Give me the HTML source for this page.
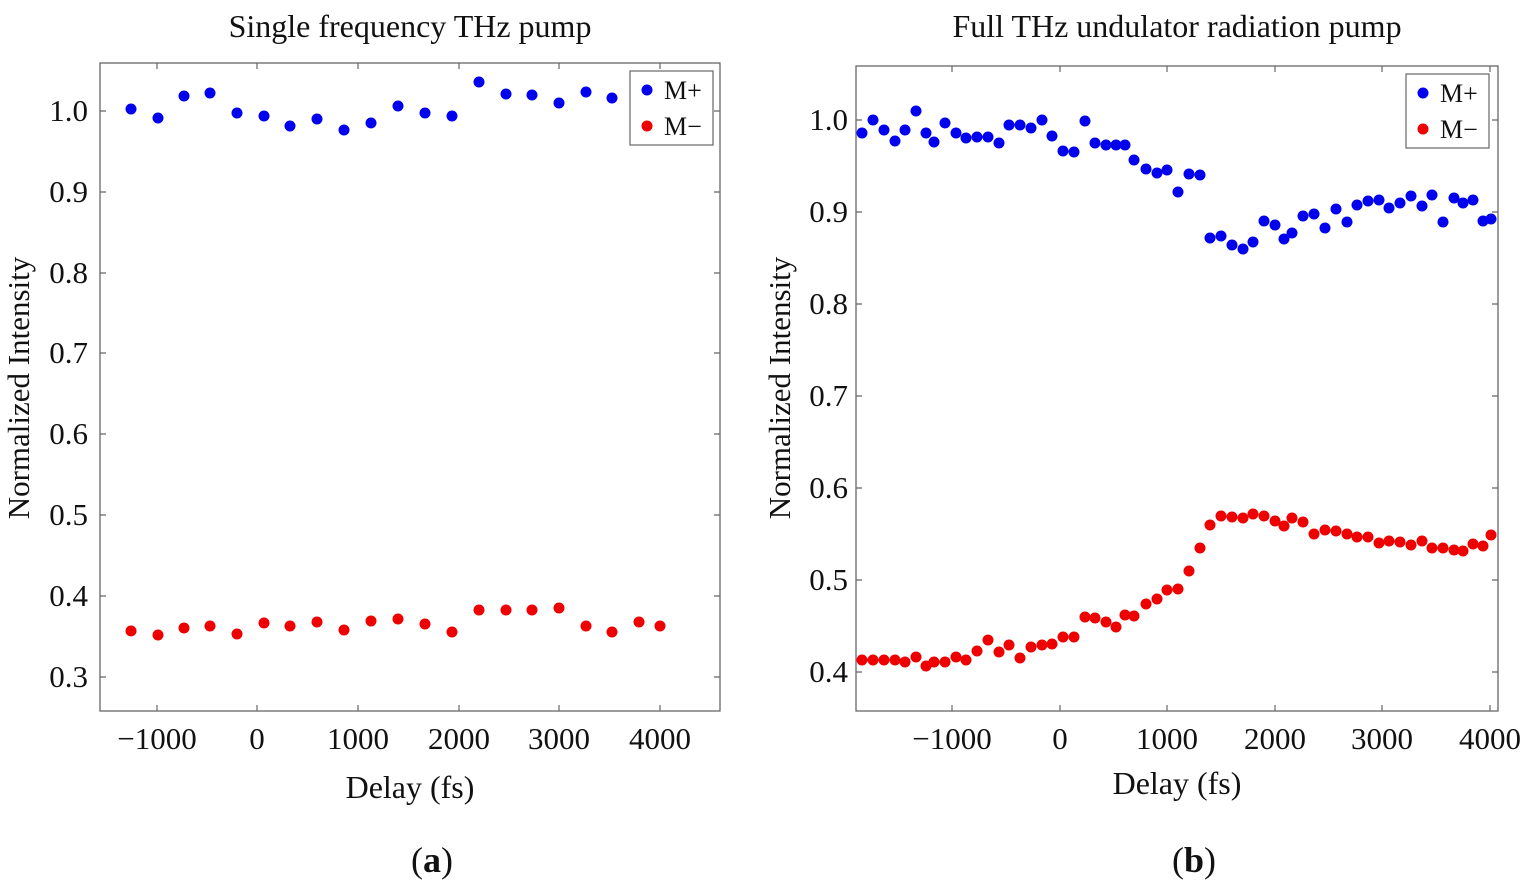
<!DOCTYPE html>
<html><head><style>
body{margin:0;background:#fff;}
svg text{font-family:"Liberation Serif",serif;fill:#111;}
</style></head><body>
<svg width="1528" height="886" xmlns="http://www.w3.org/2000/svg">
<g stroke="#666" stroke-width="1.3" fill="none">
<rect x="100" y="63" width="620" height="648"/>
<rect x="856" y="66" width="642" height="645"/>
</g>
<g stroke="#666" stroke-width="1.2">
<path d="M157 711v-6M257 711v-6M358 711v-6M459 711v-6M559 711v-6M660 711v-6M157 63v6M257 63v6M358 63v6M459 63v6M559 63v6M660 63v6M100 111h6M100 192h6M100 273h6M100 353h6M100 434h6M100 515h6M100 596h6M100 677h6M720 111h-6M720 192h-6M720 273h-6M720 353h-6M720 434h-6M720 515h-6M720 596h-6M720 677h-6"/>
<path d="M952 711v-6M1060 711v-6M1167 711v-6M1275 711v-6M1382 711v-6M1490 711v-6M952 66v6M1060 66v6M1167 66v6M1275 66v6M1382 66v6M1490 66v6M856 120h6M856 212h6M856 304h6M856 396h6M856 488h6M856 580h6M856 672h6M1498 120h-6M1498 212h-6M1498 304h-6M1498 396h-6M1498 488h-6M1498 580h-6M1498 672h-6"/>
</g>
<g font-size="31">
<text x="410" y="37" text-anchor="middle" font-size="32">Single frequency THz pump</text>
<text x="1177" y="37" text-anchor="middle" font-size="32">Full THz undulator radiation pump</text>
<g text-anchor="end">
<text x="88" y="121">1.0</text><text x="88" y="202">0.9</text><text x="88" y="283">0.8</text><text x="88" y="363">0.7</text><text x="88" y="444">0.6</text><text x="88" y="525">0.5</text><text x="88" y="606">0.4</text><text x="88" y="687">0.3</text>
<text x="848" y="130">1.0</text><text x="848" y="222">0.9</text><text x="848" y="314">0.8</text><text x="848" y="406">0.7</text><text x="848" y="498">0.6</text><text x="848" y="590">0.5</text><text x="848" y="682">0.4</text>
</g>
<g text-anchor="middle">
<text x="157" y="749">−1000</text><text x="257" y="749">0</text><text x="358" y="749">1000</text><text x="459" y="749">2000</text><text x="559" y="749">3000</text><text x="660" y="749">4000</text>
<text x="952" y="749">−1000</text><text x="1060" y="749">0</text><text x="1167" y="749">1000</text><text x="1275" y="749">2000</text><text x="1382" y="749">3000</text><text x="1490" y="749">4000</text>
<text x="410" y="798" font-size="32">Delay (fs)</text>
<text x="1177" y="794" font-size="32">Delay (fs)</text>
<text x="432" y="872" font-size="36">(<tspan font-weight="bold">a</tspan>)</text>
<text x="1194" y="872" font-size="36">(<tspan font-weight="bold">b</tspan>)</text>
</g>
<text transform="translate(29,388) rotate(-90)" text-anchor="middle" font-size="31">Normalized Intensity</text>
<text transform="translate(790,388) rotate(-90)" text-anchor="middle" font-size="31">Normalized Intensity</text>
</g>
<g stroke="#666" stroke-width="1.2" fill="#fff">
<rect x="630" y="71" width="83" height="74"/>
<rect x="1406" y="74" width="83" height="74"/>
</g>
<g font-size="26">
<circle cx="647" cy="90" r="5.5" fill="#0000ee"/><text x="664" y="99">M+</text>
<circle cx="647" cy="126" r="5.5" fill="#ee0000"/><text x="664" y="135">M−</text>
<circle cx="1423" cy="93" r="5.5" fill="#0000ee"/><text x="1440" y="102">M+</text>
<circle cx="1423" cy="129" r="5.5" fill="#ee0000"/><text x="1440" y="138">M−</text>
</g>
<g fill="#0000ee">
<circle cx="131" cy="109" r="5.5"/><circle cx="158" cy="118" r="5.5"/><circle cx="184" cy="96" r="5.5"/><circle cx="210" cy="93" r="5.5"/><circle cx="237" cy="113" r="5.5"/><circle cx="264" cy="116" r="5.5"/><circle cx="290" cy="126" r="5.5"/><circle cx="317" cy="119" r="5.5"/><circle cx="344" cy="130" r="5.5"/><circle cx="371" cy="123" r="5.5"/><circle cx="398" cy="106" r="5.5"/><circle cx="425" cy="113" r="5.5"/><circle cx="452" cy="116" r="5.5"/><circle cx="479" cy="82" r="5.5"/><circle cx="506" cy="94" r="5.5"/><circle cx="532" cy="95" r="5.5"/><circle cx="559" cy="103" r="5.5"/><circle cx="586" cy="92" r="5.5"/><circle cx="612" cy="98" r="5.5"/>
<circle cx="862" cy="133" r="5.5"/><circle cx="873" cy="120" r="5.5"/><circle cx="884" cy="130" r="5.5"/><circle cx="895" cy="141" r="5.5"/><circle cx="905" cy="130" r="5.5"/><circle cx="916" cy="111" r="5.5"/><circle cx="926" cy="133" r="5.5"/><circle cx="934" cy="142" r="5.5"/><circle cx="945" cy="123" r="5.5"/><circle cx="956" cy="133" r="5.5"/><circle cx="966" cy="138" r="5.5"/><circle cx="977" cy="137" r="5.5"/><circle cx="988" cy="137" r="5.5"/><circle cx="999" cy="143" r="5.5"/><circle cx="1009" cy="125" r="5.5"/><circle cx="1020" cy="125" r="5.5"/><circle cx="1031" cy="128" r="5.5"/><circle cx="1042" cy="120" r="5.5"/><circle cx="1052" cy="136" r="5.5"/><circle cx="1063" cy="151" r="5.5"/><circle cx="1074" cy="152" r="5.5"/><circle cx="1085" cy="121" r="5.5"/><circle cx="1095" cy="143" r="5.5"/><circle cx="1106" cy="145" r="5.5"/><circle cx="1116" cy="145" r="5.5"/><circle cx="1125" cy="145" r="5.5"/><circle cx="1134" cy="160" r="5.5"/><circle cx="1146" cy="169" r="5.5"/><circle cx="1157" cy="173" r="5.5"/><circle cx="1167" cy="170" r="5.5"/><circle cx="1178" cy="192" r="5.5"/><circle cx="1189" cy="174" r="5.5"/><circle cx="1200" cy="175" r="5.5"/><circle cx="1210" cy="238" r="5.5"/><circle cx="1221" cy="236" r="5.5"/><circle cx="1232" cy="245" r="5.5"/><circle cx="1243" cy="249" r="5.5"/><circle cx="1253" cy="242" r="5.5"/><circle cx="1264" cy="221" r="5.5"/><circle cx="1275" cy="225" r="5.5"/><circle cx="1284" cy="239" r="5.5"/><circle cx="1292" cy="233" r="5.5"/><circle cx="1303" cy="216" r="5.5"/><circle cx="1314" cy="214" r="5.5"/><circle cx="1325" cy="228" r="5.5"/><circle cx="1336" cy="209" r="5.5"/><circle cx="1347" cy="222" r="5.5"/><circle cx="1357" cy="205" r="5.5"/><circle cx="1368" cy="201" r="5.5"/><circle cx="1379" cy="200" r="5.5"/><circle cx="1389" cy="208" r="5.5"/><circle cx="1400" cy="203" r="5.5"/><circle cx="1411" cy="196" r="5.5"/><circle cx="1422" cy="206" r="5.5"/><circle cx="1432" cy="195" r="5.5"/><circle cx="1443" cy="222" r="5.5"/><circle cx="1454" cy="198" r="5.5"/><circle cx="1463" cy="203" r="5.5"/><circle cx="1473" cy="200" r="5.5"/><circle cx="1483" cy="221" r="5.5"/><circle cx="1491" cy="219" r="5.5"/>
</g>
<g fill="#ee0000">
<circle cx="131" cy="631" r="5.5"/><circle cx="158" cy="635" r="5.5"/><circle cx="184" cy="628" r="5.5"/><circle cx="210" cy="626" r="5.5"/><circle cx="237" cy="634" r="5.5"/><circle cx="264" cy="623" r="5.5"/><circle cx="290" cy="626" r="5.5"/><circle cx="317" cy="622" r="5.5"/><circle cx="344" cy="630" r="5.5"/><circle cx="371" cy="621" r="5.5"/><circle cx="398" cy="619" r="5.5"/><circle cx="425" cy="624" r="5.5"/><circle cx="452" cy="632" r="5.5"/><circle cx="479" cy="610" r="5.5"/><circle cx="506" cy="610" r="5.5"/><circle cx="532" cy="610" r="5.5"/><circle cx="559" cy="608" r="5.5"/><circle cx="586" cy="626" r="5.5"/><circle cx="612" cy="632" r="5.5"/><circle cx="639" cy="622" r="5.5"/><circle cx="660" cy="626" r="5.5"/>
<circle cx="862" cy="660" r="5.5"/><circle cx="873" cy="660" r="5.5"/><circle cx="884" cy="660" r="5.5"/><circle cx="895" cy="660" r="5.5"/><circle cx="905" cy="662" r="5.5"/><circle cx="916" cy="657" r="5.5"/><circle cx="926" cy="666" r="5.5"/><circle cx="934" cy="662" r="5.5"/><circle cx="945" cy="662" r="5.5"/><circle cx="956" cy="657" r="5.5"/><circle cx="966" cy="660" r="5.5"/><circle cx="977" cy="651" r="5.5"/><circle cx="988" cy="640" r="5.5"/><circle cx="999" cy="652" r="5.5"/><circle cx="1009" cy="645" r="5.5"/><circle cx="1020" cy="658" r="5.5"/><circle cx="1031" cy="647" r="5.5"/><circle cx="1042" cy="645" r="5.5"/><circle cx="1052" cy="644" r="5.5"/><circle cx="1063" cy="637" r="5.5"/><circle cx="1074" cy="637" r="5.5"/><circle cx="1085" cy="617" r="5.5"/><circle cx="1095" cy="618" r="5.5"/><circle cx="1106" cy="622" r="5.5"/><circle cx="1116" cy="627" r="5.5"/><circle cx="1125" cy="615" r="5.5"/><circle cx="1134" cy="616" r="5.5"/><circle cx="1146" cy="604" r="5.5"/><circle cx="1157" cy="599" r="5.5"/><circle cx="1167" cy="590" r="5.5"/><circle cx="1178" cy="589" r="5.5"/><circle cx="1189" cy="571" r="5.5"/><circle cx="1200" cy="548" r="5.5"/><circle cx="1210" cy="525" r="5.5"/><circle cx="1221" cy="516" r="5.5"/><circle cx="1232" cy="517" r="5.5"/><circle cx="1243" cy="518" r="5.5"/><circle cx="1253" cy="514" r="5.5"/><circle cx="1264" cy="516" r="5.5"/><circle cx="1275" cy="521" r="5.5"/><circle cx="1284" cy="526" r="5.5"/><circle cx="1292" cy="518" r="5.5"/><circle cx="1303" cy="522" r="5.5"/><circle cx="1314" cy="534" r="5.5"/><circle cx="1325" cy="530" r="5.5"/><circle cx="1336" cy="531" r="5.5"/><circle cx="1347" cy="534" r="5.5"/><circle cx="1357" cy="537" r="5.5"/><circle cx="1368" cy="537" r="5.5"/><circle cx="1379" cy="543" r="5.5"/><circle cx="1389" cy="541" r="5.5"/><circle cx="1400" cy="542" r="5.5"/><circle cx="1411" cy="545" r="5.5"/><circle cx="1422" cy="541" r="5.5"/><circle cx="1432" cy="548" r="5.5"/><circle cx="1443" cy="548" r="5.5"/><circle cx="1454" cy="550" r="5.5"/><circle cx="1463" cy="551" r="5.5"/><circle cx="1473" cy="544" r="5.5"/><circle cx="1483" cy="546" r="5.5"/><circle cx="1491" cy="535" r="5.5"/>
</g>
</svg>
</body></html>
